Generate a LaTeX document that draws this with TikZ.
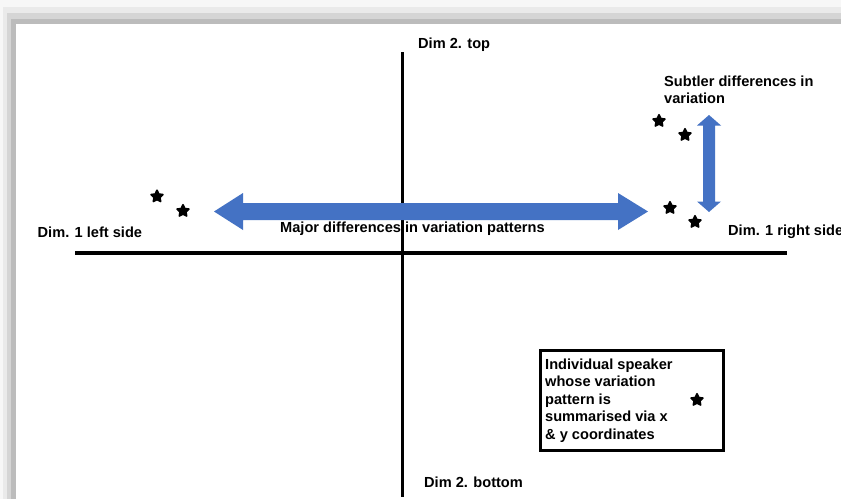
\documentclass[tikz,border=0pt]{standalone}
\usepackage{fontspec}
\setmainfont{Liberation Sans}
\usetikzlibrary{shapes.geometric}
\definecolor{arrowblue}{HTML}{4472C4}
\definecolor{sh1}{HTML}{F7F7F7}
\definecolor{sh2}{HTML}{EAEAEA}
\definecolor{sh3}{HTML}{D5D5D5}
\definecolor{sh4}{HTML}{BCBCBC}
\begin{document}
\begin{tikzpicture}[x=1pt,y=-1pt,
  lbl/.style={font=\fontsize{14.6}{17.6}\selectfont\bfseries, inner sep=0pt, anchor=base west},
  spk/.style={star, star points=5, star point ratio=2.0, minimum size=12.5pt, inner sep=0pt,
    fill=black, draw=black, line width=1.6pt, line join=round},
  axis/.style={line width=3.2pt},
  blockarrow/.style={fill=arrowblue, draw=none}]
\useasboundingbox (0,0) rectangle (841,499);
% frame shadow
\fill[sh1] (0,0) rectangle (841,499);
\fill[sh2] (3,7) rectangle (841,499);
\fill[sh3] (7,13) rectangle (841,499);
\fill[sh4] (11,19) rectangle (841,499);
\fill[white] (16,24) rectangle (841,499);
% axes
\coordinate (vtop) at (402.5,52);
\coordinate (vbot) at (402.5,497);
\coordinate (hl) at (75,253);
\coordinate (hr) at (787,253);
\draw[axis] (vtop) -- (vbot);
\draw[axis] (hl) -- (hr);
% block arrows
\fill[blockarrow] (214,211.5) -- (243,193) -- (243,203) -- (618,203) -- (618,193) -- (648,211.5)
  -- (618,230) -- (618,220) -- (243,220) -- (243,230) -- cycle;
\fill[blockarrow] (709,115) -- (721,125.5) -- (715,125.5) -- (715,201.5) -- (721,201.5) -- (709,212)
  -- (697,201.5) -- (703,201.5) -- (703,125.5) -- (697,125.5) -- cycle;
% labels
\node[lbl] (top) at (418,48) {Dim 2. top};
\node[lbl] (bottom) at (424,487) {Dim 2. bottom};
\node[lbl] (left) at (37.5,237) {Dim. 1 left side};
\node[lbl] (right) at (728,235) {Dim. 1 right side};
\node[lbl] (major) at (280,232) {Major differences in variation patterns};
\node[lbl, anchor=north west, align=left] (subtler) at (664,75.4) {Subtler differences in\\variation};
% speakers
\node[spk] (s1) at (157,196.5) {};
\node[spk] (s2) at (183,211) {};
\node[spk] (s3) at (659,121) {};
\node[spk] (s4) at (685,135) {};
\node[spk] (s5) at (670,208) {};
\node[spk] (s6) at (695,222) {};
% legend
\node[draw, line width=3pt, anchor=north west, minimum width=183pt, minimum height=100pt, inner sep=0pt]
  (legend) at (538.5,348.5) {};
\node[lbl, anchor=north west, align=left] (legendtext) at (545,358.4)
  {Individual speaker\\whose variation\\pattern is\\summarised via x\\\& y coordinates};
\node[spk] (s7) at (697,400) {};
\end{tikzpicture}
\end{document}
